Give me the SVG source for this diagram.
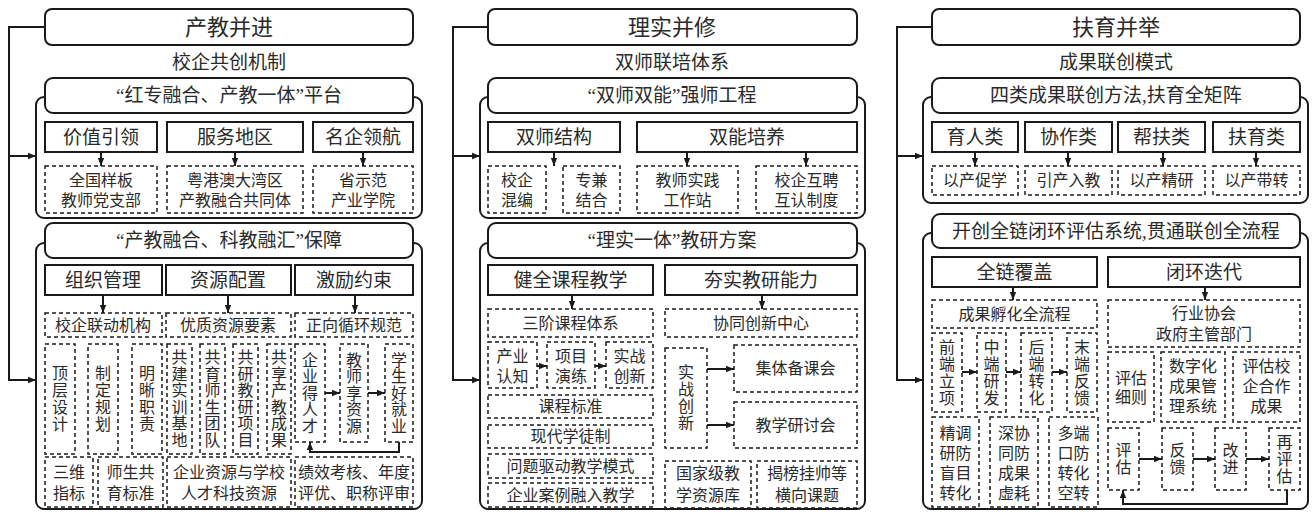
<svg xmlns="http://www.w3.org/2000/svg" width="1312" height="512" viewBox="0 0 1312 512">
<style>
.s{fill:#fff;stroke:#1a1a1a;stroke-width:2}
.o{fill:none;stroke:#1a1a1a;stroke-width:2}
.d{fill:#fff;stroke:#1a1a1a;stroke-width:1.5;stroke-dasharray:4 3}
.t{font-family:"Liberation Serif","Noto Sans CJK SC",serif;fill:#2a2a2a;text-anchor:middle}
.f22{font-size:22px}.f19{font-size:19px}.f16{font-size:16px}
.c{fill:none;stroke:#1a1a1a;stroke-width:2}
</style>
<defs>
<marker id="a" viewBox="0 0 10 10" refX="10" refY="5" markerWidth="8" markerHeight="8" orient="auto" markerUnits="userSpaceOnUse"><path d="M0,1 L10,5 L0,9 z" fill="#1a1a1a"/></marker>
</defs>
<rect width="1312" height="512" fill="#fff"/>

<!-- ========== Column 1 ========== -->
<g id="c1-title"><rect class="s" x="45" y="9" width="368" height="36" rx="7"/><text class="t f22" x="229" y="35">产教并进</text></g>
<g id="c1-sub"><text class="t f19" x="229" y="69">校企共创机制</text></g>
<g id="c1-p1">
<rect class="o" x="36" y="97" width="386" height="121" rx="8"/>
<rect class="s" x="45" y="78" width="368" height="35" rx="8"/><text class="t f19" x="229" y="102">“红专融合、产教一体”平台</text>
</g>
<g id="c1-b1"><rect class="s" x="45" y="122" width="112" height="30"/><text class="t f19" x="101" y="144">价值引领</text></g>
<g id="c1-b2"><rect class="s" x="167" y="122" width="136" height="30"/><text class="t f19" x="235" y="144">服务地区</text></g>
<g id="c1-b3"><rect class="s" x="313" y="122" width="100" height="30"/><text class="t f19" x="363" y="144">名企领航</text></g>
<g id="c1-d1"><rect class="d" x="45" y="166" width="112" height="47"/><text class="t f16"><tspan x="101" y="185.6">全国样板</tspan><tspan x="101" y="205.6">教师党支部</tspan></text></g>
<g id="c1-d2"><rect class="d" x="167" y="166" width="136" height="47"/><text class="t f16"><tspan x="235" y="185.6">粤港澳大湾区</tspan><tspan x="235" y="205.6">产教融合共同体</tspan></text></g>
<g id="c1-d3"><rect class="d" x="313" y="166" width="100" height="47"/><text class="t f16"><tspan x="363" y="185.6">省示范</tspan><tspan x="363" y="205.6">产业学院</tspan></text></g>

<g id="c1-p2">
<rect class="o" x="36" y="243" width="386" height="266" rx="8"/>
<rect class="s" x="45" y="223" width="368" height="35" rx="8"/><text class="t f19" x="229" y="247">“产教融合、科教融汇”保障</text>
</g>
<g id="c1-b4"><rect class="s" x="45" y="265" width="117" height="30"/><text class="t f19" x="103" y="287">组织管理</text></g>
<g id="c1-b5"><rect class="s" x="166" y="265" width="125" height="30"/><text class="t f19" x="228" y="287">资源配置</text></g>
<g id="c1-b6"><rect class="s" x="295" y="265" width="118" height="30"/><text class="t f19" x="354" y="287">激励约束</text></g>
<g id="c1-d4"><rect class="d" x="45" y="313" width="117" height="24"/><text class="t f16" x="103" y="330.6">校企联动机构</text></g>
<g id="c1-d5"><rect class="d" x="166" y="313" width="125" height="24"/><text class="t f16" x="228" y="330.6">优质资源要素</text></g>
<g id="c1-d6"><rect class="d" x="295" y="313" width="118" height="24"/><text class="t f16" x="354" y="330.6">正向循环规范</text></g>

<g id="c1-v1"><rect class="d" x="45" y="344" width="30" height="110"/><text class="t f16"><tspan x="60" y="379.1">顶</tspan><tspan x="60" y="396.1">层</tspan><tspan x="60" y="413.1">设</tspan><tspan x="60" y="430.1">计</tspan></text></g>
<g id="c1-v2"><rect class="d" x="88" y="344" width="30" height="110"/><text class="t f16"><tspan x="103" y="379.1">制</tspan><tspan x="103" y="396.1">定</tspan><tspan x="103" y="413.1">规</tspan><tspan x="103" y="430.1">划</tspan></text></g>
<g id="c1-v3"><rect class="d" x="132" y="344" width="30" height="110"/><text class="t f16"><tspan x="147" y="379.1">明</tspan><tspan x="147" y="396.1">晰</tspan><tspan x="147" y="413.1">职</tspan><tspan x="147" y="430.1">责</tspan></text></g>
<g id="c1-v4"><rect class="d" x="167" y="344" width="25" height="110"/><text class="t f16"><tspan x="179.5" y="363.4">共</tspan><tspan x="179.5" y="379.9">建</tspan><tspan x="179.5" y="396.4">实</tspan><tspan x="179.5" y="412.9">训</tspan><tspan x="179.5" y="429.4">基</tspan><tspan x="179.5" y="445.9">地</tspan></text></g>
<g id="c1-v5"><rect class="d" x="200" y="344" width="25" height="110"/><text class="t f16"><tspan x="212.5" y="363.4">共</tspan><tspan x="212.5" y="379.9">育</tspan><tspan x="212.5" y="396.4">师</tspan><tspan x="212.5" y="412.9">生</tspan><tspan x="212.5" y="429.4">团</tspan><tspan x="212.5" y="445.9">队</tspan></text></g>
<g id="c1-v6"><rect class="d" x="233" y="344" width="25" height="110"/><text class="t f16"><tspan x="245.5" y="363.4">共</tspan><tspan x="245.5" y="379.9">研</tspan><tspan x="245.5" y="396.4">教</tspan><tspan x="245.5" y="412.9">研</tspan><tspan x="245.5" y="429.4">项</tspan><tspan x="245.5" y="445.9">目</tspan></text></g>
<g id="c1-v7"><rect class="d" x="267" y="344" width="24" height="110"/><text class="t f16"><tspan x="279" y="363.4">共</tspan><tspan x="279" y="379.9">享</tspan><tspan x="279" y="396.4">产</tspan><tspan x="279" y="412.9">教</tspan><tspan x="279" y="429.4">成</tspan><tspan x="279" y="445.9">果</tspan></text></g>
<g id="c1-v8"><rect class="d" x="295" y="344" width="30" height="98"/><text class="t f16"><tspan x="310" y="365.6">企</tspan><tspan x="310" y="382.1">业</tspan><tspan x="310" y="398.6">得</tspan><tspan x="310" y="415.1">人</tspan><tspan x="310" y="431.6">才</tspan></text></g>
<g id="c1-v9"><rect class="d" x="340" y="344" width="28" height="98"/><text class="t f16"><tspan x="354" y="365.6">教</tspan><tspan x="354" y="382.1">师</tspan><tspan x="354" y="398.6">享</tspan><tspan x="354" y="415.1">资</tspan><tspan x="354" y="431.6">源</tspan></text></g>
<g id="c1-v10"><rect class="d" x="385" y="344" width="28" height="98"/><text class="t f16"><tspan x="399" y="365.6">学</tspan><tspan x="399" y="382.1">生</tspan><tspan x="399" y="398.6">好</tspan><tspan x="399" y="415.1">就</tspan><tspan x="399" y="431.6">业</tspan></text></g>
<g id="c1-e1"><rect class="d" x="45" y="457" width="48" height="50"/><text class="t f16"><tspan x="69" y="477.6">三维</tspan><tspan x="69" y="498.6">指标</tspan></text></g>
<g id="c1-e2"><rect class="d" x="98" y="457" width="65" height="50"/><text class="t f16"><tspan x="130.5" y="477.6">师生共</tspan><tspan x="130.5" y="498.6">育标准</tspan></text></g>
<g id="c1-e3"><rect class="d" x="167" y="457" width="124" height="50"/><text class="t f16"><tspan x="229" y="477.6">企业资源与学校</tspan><tspan x="229" y="498.6">人才科技资源</tspan></text></g>
<g id="c1-e4"><rect class="d" x="295" y="457" width="118" height="50"/><text class="t f16"><tspan x="354" y="477.6">绩效考核、年度</tspan><tspan x="354" y="498.6">评优、职称评审</tspan></text></g>

<!-- ========== Column 2 ========== -->
<g id="c2-title"><rect class="s" x="488" y="9" width="369" height="36" rx="7"/><text class="t f22" x="672" y="35">理实并修</text></g>
<g id="c2-sub"><text class="t f19" x="672" y="69">双师联培体系</text></g>
<g id="c2-p1">
<rect class="o" x="480" y="97" width="385" height="121" rx="8"/>
<rect class="s" x="488" y="78" width="369" height="35" rx="8"/><text class="t f19" x="672" y="102">“双师双能”强师工程</text>
</g>
<g id="c2-b1"><rect class="s" x="488" y="122" width="132" height="30"/><text class="t f19" x="554" y="144">双师结构</text></g>
<g id="c2-b2"><rect class="s" x="637" y="122" width="220" height="30"/><text class="t f19" x="747" y="144">双能培养</text></g>
<g id="c2-d1"><rect class="d" x="488" y="166" width="58" height="47"/><text class="t f16"><tspan x="517" y="185.6">校企</tspan><tspan x="517" y="205.6">混编</tspan></text></g>
<g id="c2-d2"><rect class="d" x="563" y="166" width="57" height="47"/><text class="t f16"><tspan x="591.5" y="185.6">专兼</tspan><tspan x="591.5" y="205.6">结合</tspan></text></g>
<g id="c2-d3"><rect class="d" x="637" y="166" width="101" height="47"/><text class="t f16"><tspan x="687.5" y="185.6">教师实践</tspan><tspan x="687.5" y="205.6">工作站</tspan></text></g>
<g id="c2-d4"><rect class="d" x="756" y="166" width="101" height="47"/><text class="t f16"><tspan x="806.5" y="185.6">校企互聘</tspan><tspan x="806.5" y="205.6">互认制度</tspan></text></g>

<g id="c2-p2">
<rect class="o" x="480" y="243" width="385" height="266" rx="8"/>
<rect class="s" x="488" y="223" width="369" height="35" rx="8"/><text class="t f19" x="672" y="247">“理实一体”教研方案</text>
</g>
<g id="c2-b3"><rect class="s" x="488" y="265" width="165" height="30"/><text class="t f19" x="570.5" y="287">健全课程教学</text></g>
<g id="c2-b4"><rect class="s" x="665" y="265" width="192" height="30"/><text class="t f19" x="761" y="287">夯实教研能力</text></g>
<g id="c2-d5"><rect class="d" x="488" y="309" width="165" height="28"/><text class="t f16" x="570.5" y="328.6">三阶课程体系</text></g>
<g id="c2-d6"><rect class="d" x="665" y="309" width="192" height="28"/><text class="t f16" x="761" y="328.6">协同创新中心</text></g>
<g id="c2-s1"><rect class="d" x="488" y="342" width="49" height="46"/><text class="t f16"><tspan x="512.5" y="361.6">产业</tspan><tspan x="512.5" y="381.6">认知</tspan></text></g>
<g id="c2-s2"><rect class="d" x="547" y="342" width="48" height="46"/><text class="t f16"><tspan x="571" y="361.6">项目</tspan><tspan x="571" y="381.6">演练</tspan></text></g>
<g id="c2-s3"><rect class="d" x="606" y="342" width="47" height="46"/><text class="t f16"><tspan x="629.5" y="361.6">实战</tspan><tspan x="629.5" y="381.6">创新</tspan></text></g>
<g id="c2-l1"><rect class="d" x="488" y="395" width="165" height="23"/><text class="t f16" x="570.5" y="412">课程标准</text></g>
<g id="c2-l2"><rect class="d" x="488" y="425" width="165" height="23"/><text class="t f16" x="570.5" y="442">现代学徒制</text></g>
<g id="c2-l3"><rect class="d" x="488" y="454" width="165" height="24"/><text class="t f16" x="570.5" y="471.6">问题驱动教学模式</text></g>
<g id="c2-l4"><rect class="d" x="488" y="483" width="165" height="24"/><text class="t f16" x="570.5" y="500.6">企业案例融入教学</text></g>
<g id="c2-v1"><rect class="d" x="665" y="348" width="42" height="100"/><text class="t f16"><tspan x="686" y="378.1">实</tspan><tspan x="686" y="395.1">战</tspan><tspan x="686" y="412.1">创</tspan><tspan x="686" y="429.1">新</tspan></text></g>
<g id="c2-r1"><rect class="d" x="734" y="345" width="123" height="47"/><text class="t f16" x="795.5" y="374.1">集体备课会</text></g>
<g id="c2-r2"><rect class="d" x="734" y="402" width="123" height="46"/><text class="t f16" x="795.5" y="430.6">教学研讨会</text></g>
<g id="c2-e1"><rect class="d" x="665" y="461" width="86" height="47"/><text class="t f16"><tspan x="708" y="478.6">国家级教</tspan><tspan x="708" y="500.6">学资源库</tspan></text></g>
<g id="c2-e2"><rect class="d" x="757" y="461" width="100" height="47"/><text class="t f16"><tspan x="807" y="478.6">揭榜挂帅等</tspan><tspan x="807" y="500.6">横向课题</tspan></text></g>

<!-- ========== Column 3 ========== -->
<g id="c3-title"><rect class="s" x="932" y="9" width="368" height="36" rx="7"/><text class="t f22" x="1116" y="35">扶育并举</text></g>
<g id="c3-sub"><text class="t f19" x="1116" y="69">成果联创模式</text></g>
<g id="c3-p1">
<rect class="o" x="923" y="97" width="385" height="106" rx="8"/>
<rect class="s" x="932" y="78" width="368" height="35" rx="8"/><text class="t f19" x="1116" y="102">四类成果联创方法,扶育全矩阵</text>
</g>
<g id="c3-b1"><rect class="s" x="932" y="122" width="86" height="30"/><text class="t f19" x="975" y="144">育人类</text></g>
<g id="c3-b2"><rect class="s" x="1025" y="122" width="87" height="30"/><text class="t f19" x="1068.5" y="144">协作类</text></g>
<g id="c3-b3"><rect class="s" x="1118" y="122" width="87" height="30"/><text class="t f19" x="1161.5" y="144">帮扶类</text></g>
<g id="c3-b4"><rect class="s" x="1213" y="122" width="87" height="30"/><text class="t f19" x="1256.5" y="144">扶育类</text></g>
<g id="c3-d1"><rect class="d" x="932" y="166" width="86" height="29"/><text class="t f16" x="975" y="186">以产促学</text></g>
<g id="c3-d2"><rect class="d" x="1025" y="166" width="87" height="29"/><text class="t f16" x="1068.5" y="186">引产入教</text></g>
<g id="c3-d3"><rect class="d" x="1118" y="166" width="87" height="29"/><text class="t f16" x="1161.5" y="186">以产精研</text></g>
<g id="c3-d4"><rect class="d" x="1213" y="166" width="87" height="29"/><text class="t f16" x="1256.5" y="186">以产带转</text></g>

<g id="c3-p2">
<rect class="o" x="923" y="233" width="385" height="276" rx="8"/>
<rect class="s" x="932" y="214" width="368" height="34" rx="8"/><text class="t f19" x="1116" y="237.7">开创全链闭环评估系统,贯通联创全流程</text>
</g>
<g id="c3-b5"><rect class="s" x="932" y="257" width="165" height="30"/><text class="t f19" x="1014.5" y="279">全链覆盖</text></g>
<g id="c3-b6"><rect class="s" x="1108" y="257" width="192" height="30"/><text class="t f19" x="1204" y="279">闭环迭代</text></g>
<g id="c3-d5"><rect class="d" x="932" y="300" width="165" height="28"/><text class="t f16" x="1014.5" y="319.6">成果孵化全流程</text></g>
<g id="c3-d6"><rect class="d" x="1108" y="300" width="192" height="47"/><text class="t f16"><tspan x="1204" y="318.6">行业协会</tspan><tspan x="1204" y="339.6">政府主管部门</tspan></text></g>
<g id="c3-v1"><rect class="d" x="932" y="333" width="30" height="79"/><text class="t f16"><tspan x="947" y="352.6">前</tspan><tspan x="947" y="369.6">端</tspan><tspan x="947" y="386.6">立</tspan><tspan x="947" y="403.6">项</tspan></text></g>
<g id="c3-v2"><rect class="d" x="977" y="333" width="29" height="79"/><text class="t f16"><tspan x="991.5" y="352.6">中</tspan><tspan x="991.5" y="369.6">端</tspan><tspan x="991.5" y="386.6">研</tspan><tspan x="991.5" y="403.6">发</tspan></text></g>
<g id="c3-v3"><rect class="d" x="1021" y="333" width="31" height="79"/><text class="t f16"><tspan x="1036.5" y="352.6">后</tspan><tspan x="1036.5" y="369.6">端</tspan><tspan x="1036.5" y="386.6">转</tspan><tspan x="1036.5" y="403.6">化</tspan></text></g>
<g id="c3-v4"><rect class="d" x="1067" y="333" width="30" height="79"/><text class="t f16"><tspan x="1082" y="352.6">末</tspan><tspan x="1082" y="369.6">端</tspan><tspan x="1082" y="386.6">反</tspan><tspan x="1082" y="403.6">馈</tspan></text></g>
<g id="c3-m1"><rect class="d" x="1108" y="352" width="46" height="70"/><text class="t f16"><tspan x="1131" y="383.6">评估</tspan><tspan x="1131" y="402.6">细则</tspan></text></g>
<g id="c3-m2"><rect class="d" x="1161" y="352" width="64" height="70"/><text class="t f16"><tspan x="1193" y="372.1">数字化</tspan><tspan x="1193" y="392.1">成果管</tspan><tspan x="1193" y="412.1">理系统</tspan></text></g>
<g id="c3-m3"><rect class="d" x="1233" y="352" width="67" height="70"/><text class="t f16"><tspan x="1266.5" y="372.1">评估校</tspan><tspan x="1266.5" y="392.1">企合作</tspan><tspan x="1266.5" y="412.1">成果</tspan></text></g>
<g id="c3-f1"><rect class="d" x="932" y="417" width="47" height="90"/><text class="t f16"><tspan x="955.5" y="438.6">精调</tspan><tspan x="955.5" y="458.6">研防</tspan><tspan x="955.5" y="478.6">盲目</tspan><tspan x="955.5" y="498.6">转化</tspan></text></g>
<g id="c3-f2"><rect class="d" x="990" y="417" width="48" height="90"/><text class="t f16"><tspan x="1014" y="438.6">深协</tspan><tspan x="1014" y="458.6">同防</tspan><tspan x="1014" y="478.6">成果</tspan><tspan x="1014" y="498.6">虚耗</tspan></text></g>
<g id="c3-f3"><rect class="d" x="1049" y="417" width="49" height="90"/><text class="t f16"><tspan x="1073.5" y="438.6">多端</tspan><tspan x="1073.5" y="458.6">口防</tspan><tspan x="1073.5" y="478.6">转化</tspan><tspan x="1073.5" y="498.6">空转</tspan></text></g>
<g id="c3-l1"><rect class="d" x="1108" y="428" width="31" height="62"/><text class="t f16"><tspan x="1123.5" y="456.1">评</tspan><tspan x="1123.5" y="473.1">估</tspan></text></g>
<g id="c3-l2"><rect class="d" x="1162" y="428" width="31" height="62"/><text class="t f16"><tspan x="1177.5" y="456.1">反</tspan><tspan x="1177.5" y="473.1">馈</tspan></text></g>
<g id="c3-l3"><rect class="d" x="1215" y="428" width="31" height="62"/><text class="t f16"><tspan x="1230.5" y="456.1">改</tspan><tspan x="1230.5" y="473.1">进</tspan></text></g>
<g id="c3-l4"><rect class="d" x="1269" y="428" width="31" height="62"/><text class="t f16"><tspan x="1284.5" y="447.6">再</tspan><tspan x="1284.5" y="464.6">评</tspan><tspan x="1284.5" y="481.6">估</tspan></text></g>

<!-- ========== Connectors ========== -->
<g id="connectors" class="c">
<path d="M45,27 H9 V380 H36" marker-end="url(#a)"/>
<path d="M9,156 H36" marker-end="url(#a)"/>
<path d="M101,152 V166" marker-end="url(#a)"/>
<path d="M235,152 V166" marker-end="url(#a)"/>
<path d="M363,152 V166" marker-end="url(#a)"/>
<path d="M103,295 V313" marker-end="url(#a)"/>
<path d="M228,295 V313" marker-end="url(#a)"/>
<path d="M355,295 V313" marker-end="url(#a)"/>
<path d="M325,393 H340" marker-end="url(#a)"/>
<path d="M368,393 H385" marker-end="url(#a)"/>
<path d="M399,442 V452 H310 V442" marker-end="url(#a)"/>

<path d="M488,27 H453 V380 H480" marker-end="url(#a)"/>
<path d="M453,156 H480" marker-end="url(#a)"/>
<path d="M554,152 V166" marker-end="url(#a)"/>
<path d="M687,152 V166" marker-end="url(#a)"/>
<path d="M806,152 V166" marker-end="url(#a)"/>
<path d="M572,295 V309" marker-end="url(#a)"/>
<path d="M762,295 V309" marker-end="url(#a)"/>
<path d="M537,366 H547" marker-end="url(#a)"/>
<path d="M595,366 H606" marker-end="url(#a)"/>
<path d="M707,369 H734" marker-end="url(#a)"/>
<path d="M707,425 H734" marker-end="url(#a)"/>

<path d="M932,27 H897 V380 H923" marker-end="url(#a)"/>
<path d="M897,156 H923" marker-end="url(#a)"/>
<path d="M975,152 V166" marker-end="url(#a)"/>
<path d="M1068,152 V166" marker-end="url(#a)"/>
<path d="M1163,152 V166" marker-end="url(#a)"/>
<path d="M1256,152 V166" marker-end="url(#a)"/>
<path d="M1013,287 V300" marker-end="url(#a)"/>
<path d="M1205,287 V300" marker-end="url(#a)"/>
<path d="M962,372 H977" marker-end="url(#a)"/>
<path d="M1006,372 H1021" marker-end="url(#a)"/>
<path d="M1052,372 H1067" marker-end="url(#a)"/>
<path d="M1139,459 H1162" marker-end="url(#a)"/>
<path d="M1193,459 H1215" marker-end="url(#a)"/>
<path d="M1246,459 H1269" marker-end="url(#a)"/>
<path d="M1287,490 V504 H1123 V490" marker-end="url(#a)"/>
</g>
</svg>
